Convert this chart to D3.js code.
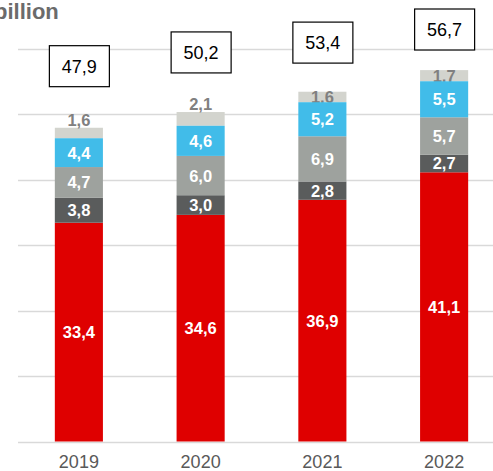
<!DOCTYPE html>
<html><head><meta charset="utf-8">
<script src="https://cdn.jsdelivr.net/npm/d3@7"></script>
<style>body{margin:0;background:#fff}svg{display:block}text{font-family:'Liberation Sans',Arial,sans-serif}</style>
</head><body>
<svg id="c" width="493" height="471"></svg>
<script>
const years = ["2019","2020","2021","2022"];
const seriesNames = ["s1","s2","s3","s4","s5"];
const s1 = [33.4, 34.6, 36.9, 41.1];
const s2 = [3.8, 3.0, 2.8, 2.7];
const s3 = [4.7, 6.0, 6.9, 5.7];
const s4 = [4.4, 4.6, 5.2, 5.5];
const s5 = [1.6, 2.1, 1.6, 1.7];
const totals = [47.9, 50.2, 53.4, 56.7];
const yTicks = [0, 10, 20, 30, 40, 50, 60];
const unitLabel = "billion";

// layout (not data)
const colors = ["#df0000", "#5a5c5c", "#9ea29e", "#41bce9", "#d3d4ce"];
const totalBoxAnchor = [57.3, 59.4, 60.9, 62.9]; // value units where each total box is centred
const topLabelAbove = [true, true, false, false];

const svg = d3.select("#c");
const x = d3.scaleBand().domain(years).range([18, 505]).paddingInner(0.605).paddingOuter(0.3025);
const y = d3.scaleLinear().domain([0, 60]).range([441.5, 48.5]);
const fmt = v => v.toFixed(1).replace(".", ",");

// gridlines
svg.append("g").selectAll("line").data(yTicks).join("line")
  .attr("x1", 18).attr("x2", 493)
  .attr("y1", d => Math.round(y(d)) + 0.5).attr("y2", d => Math.round(y(d)) + 0.5)
  .attr("stroke", "#d9d9d9").attr("stroke-width", d => d === 0 ? 1.6 : 1.3);

const rows = years.map((yr, i) => ({year: yr, s1: s1[i], s2: s2[i], s3: s3[i], s4: s4[i], s5: s5[i]}));
const stacked = d3.stack().keys(seriesNames)(rows);

function drawLayer(li) {
  svg.append("g").selectAll("rect").data(stacked[li]).join("rect")
    .attr("x", d => x(d.data.year))
    .attr("width", x.bandwidth())
    .attr("y", d => y(d[1]))
    .attr("height", d => y(d[0]) - y(d[1]))
    .attr("fill", colors[li]);
}

// top layer and its gray labels first (blue segment covers overflow)
drawLayer(4);
const topLayer = stacked[4];
svg.append("g").attr("font-weight", "bold").attr("font-size", 16.5)
  .attr("text-anchor", "middle").attr("fill", "#808080")
  .selectAll("text").data(topLayer).join("text")
  .attr("x", d => x(d.data.year) + x.bandwidth() / 2)
  .attr("y", (d, i) => topLabelAbove[i] ? y(d[1]) - 2 : (y(d[0]) + y(d[1])) / 2 + 6)
  .text(d => fmt(d[1] - d[0]));

for (let li = 0; li < 4; li++) drawLayer(li);

// white labels inside
const lbl = svg.append("g").attr("font-weight", "bold").attr("font-size", 16.5)
  .attr("text-anchor", "middle").attr("fill", "#fff");
for (let li = 0; li < 4; li++) {
  lbl.append("g").selectAll("text").data(stacked[li]).join("text")
    .attr("x", d => x(d.data.year) + x.bandwidth() / 2)
    .attr("y", d => (y(d[0]) + y(d[1])) / 2)
    .attr("dy", "0.36em")
    .text(d => fmt(d[1] - d[0]));
}

// total boxes
const tb = svg.append("g").attr("font-size", 18);
tb.selectAll("rect").data(years).join("rect")
  .attr("x", d => x(d) + x.bandwidth() / 2 - 29.5)
  .attr("y", (d, i) => y(totalBoxAnchor[i]) - 20.5)
  .attr("width", 60).attr("height", 41)
  .attr("fill", "#fff").attr("stroke", "#000").attr("stroke-width", 1.2);
tb.selectAll("text").data(years).join("text")
  .attr("x", d => x(d) + x.bandwidth() / 2 + 0.5)
  .attr("y", (d, i) => y(totalBoxAnchor[i]))
  .attr("dy", "0.36em").attr("text-anchor", "middle").attr("fill", "#000")
  .text((d, i) => fmt(totals[i]));

// x axis labels
const xa = svg.append("g").attr("transform", "translate(0,441)")
  .call(d3.axisBottom(x).tickSize(0).tickPadding(14));
xa.select(".domain").remove();
xa.selectAll("text").attr("font-family", null).attr("font-size", 18).attr("fill", "#595959");

// unit label
svg.append("text").attr("x", -6).attr("y", 19)
  .attr("font-weight", "bold").attr("font-size", 22).attr("fill", "#6b6b6b").text(unitLabel);
</script>
</body></html>
